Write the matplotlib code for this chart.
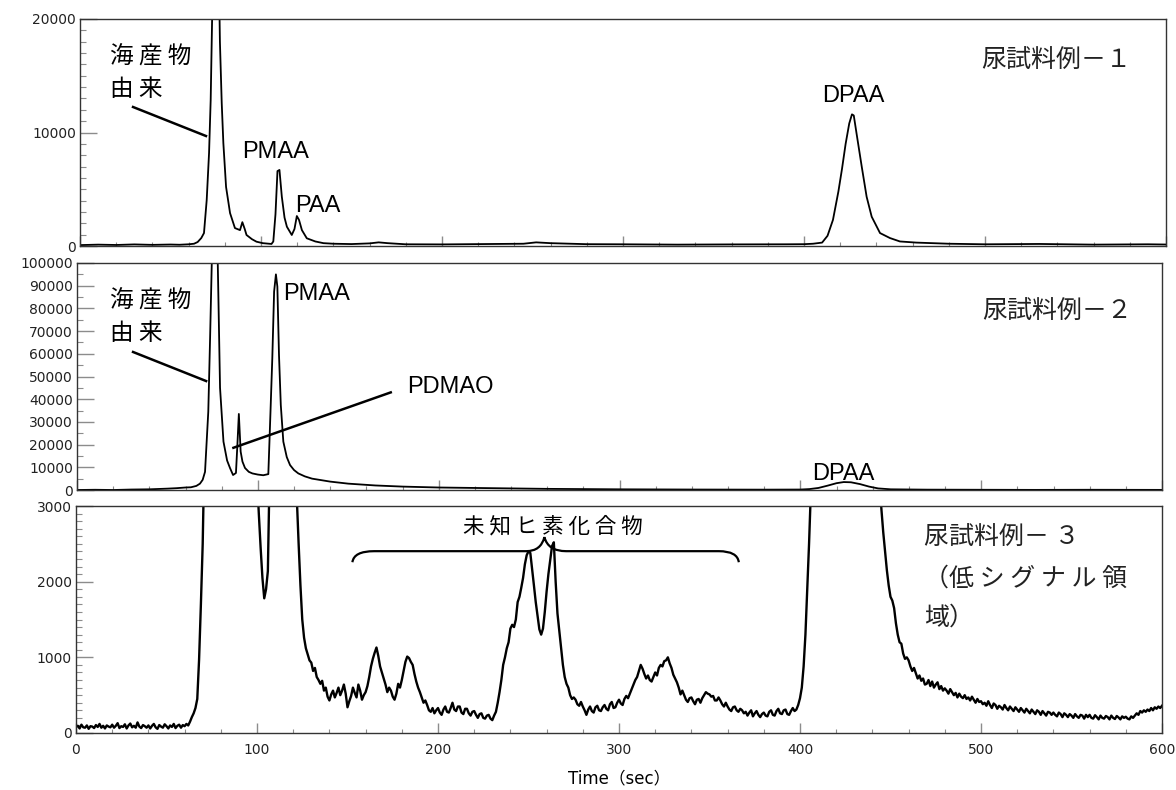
import numpy as np
import matplotlib
matplotlib.use("Agg")
import matplotlib.pyplot as plt
from matplotlib.path import Path
from matplotlib.patches import PathPatch
from matplotlib.ticker import MultipleLocator

plt.rcParams["font.family"] = ["DejaVu Sans", "Noto Sans CJK JP"]

CJK = ["Noto Sans CJK JP", "DejaVu Sans"]
LATIN = ["Liberation Sans", "DejaVu Sans"]

# ---- urine sample 1: retention time (s) and intensity ----
t1 = [0, 10, 20, 30, 40, 50, 55, 60, 63, 65,
      67, 68.5, 70, 71.3, 72.2, 73.1, 74, 75, 76, 77.3,
      78.3, 79.2, 80.7, 82.9, 85.6, 88.4, 89.7, 91, 92, 95,
      97.5, 101, 105.8, 106.8, 108, 109.1, 110.2, 111.5, 113, 114.3,
      117, 118.5, 119.8, 121, 122.6, 125.3, 130, 134.5, 140, 150,
      160, 165, 170, 180, 200, 230, 245, 252, 260, 280,
      300, 330, 360, 390, 400, 405, 410, 413, 416, 419,
      421, 423, 425, 426.5, 427.5, 429, 431.9, 434.6, 437.4, 442,
      447.5, 453, 462, 480, 500, 530, 560, 590, 600]
i1 = [80, 120, 90, 140, 100, 130, 110, 150, 200, 350,
      700, 1140, 4050, 8200, 12860, 21000, 30000, 36000, 32000, 18000,
      12600, 9070, 5200, 2900, 1580, 1400, 2100, 1500, 970, 600,
      380, 250, 180, 400, 2800, 6600, 6700, 4350, 2500, 1700,
      970, 1500, 2640, 2300, 1400, 680, 400, 250, 200, 170,
      230, 320, 250, 150, 140, 180, 200, 320, 250, 160,
      150, 120, 140, 150, 160, 200, 300, 900, 2300, 4800,
      6800, 9000, 10800, 11600, 11500, 9950, 6990, 4340, 2580, 1140,
      700, 400, 300, 200, 150, 180, 120, 150, 130]

# ---- urine sample 2 ----
t2 = [0, 10, 20, 30, 40, 50, 55, 60, 63, 66,
      68, 69.5, 70.8, 72.6, 73.6, 74.5, 75.5, 76.5, 77.6, 78.2,
      79.1, 81, 83, 84.6, 86.3, 87.9, 88.7, 89.5, 90.5, 91.5,
      92.9, 95, 97, 100, 103, 105.8, 107, 108, 109, 110,
      110.8, 111.7, 112.7, 114.1, 116, 117.8, 120, 122.4, 126, 130,
      140, 150, 165, 180, 200, 230, 260, 300, 340, 380,
      400, 405, 410, 415, 420, 424, 428, 433, 438, 443,
      450, 470, 500, 530, 560, 600]
i2 = [0, 100, 0, 200, 300, 600, 800, 1100, 1200, 1800,
      2800, 4500, 8000, 34500, 67000, 99000, 125000, 130000, 110000, 84600,
      45000, 21300, 13000, 9700, 6600, 7500, 20000, 33500, 16900, 12500,
      9700, 8000, 7300, 6800, 6500, 7000, 34500, 58000, 87400, 95000,
      89600, 59500, 37400, 21300, 14500, 11000, 8800, 7300, 6000, 5000,
      3700, 2800, 2000, 1500, 1100, 800, 500, 300, 200, 150,
      200, 400, 900, 1900, 3000, 3500, 3400, 2600, 1500, 700,
      300, 150, 100, 50, 100, 50]

# ---- urine sample 3 (low-signal range), one reading per second ----
t3 = np.arange(0, 601, 1)
i3 = [80, 95, 60, 110, 75, 70, 100, 55, 90, 85, 65, 105, 80, 120, 70, 95, 60, 100, 85, 75,
      110, 70, 95, 130, 65, 90, 80, 115, 60, 100, 125, 75, 95, 70, 140, 85, 65, 105, 90, 70,
      100, 60, 95, 120, 75, 55, 105, 85, 70, 115, 90, 60, 100, 80, 120, 65, 95, 110, 70, 105,
      90, 120, 100, 150, 210, 260, 330, 450, 970, 1700, 2500, 3800, 5000, 7000, 9000, 11000, 12000, 13000, 14000, 14000,
      13000, 12000, 11000, 10000, 9000, 8000, 7500, 7000, 6500, 7000, 8000, 7500, 7000, 6500, 6000, 5500, 5000, 4600, 4200, 3800,
      3400, 2900, 2450, 2050, 1780, 1900, 2140, 3500, 5000, 7000, 9000, 11000, 14000, 13000, 12000, 10500, 9000, 7500, 6000, 5000,
      4200, 3600, 3100, 2500, 1950, 1500, 1260, 1120, 1040, 960, 930, 820, 860, 740, 700, 650, 690, 560, 600, 480,
      430, 510, 560, 470, 530, 600, 500, 560, 640, 520, 340, 420, 490, 600, 530, 470, 640, 560, 440, 500,
      540, 620, 740, 880, 980, 1060, 1130, 1020, 880, 800, 720, 640, 540, 600, 560, 480, 440, 520, 650, 600,
      700, 820, 940, 1010, 990, 940, 900, 780, 680, 600, 540, 470, 400, 430, 370, 300, 280, 330, 260, 300,
      330, 270, 240, 310, 350, 280, 270, 330, 400, 310, 290, 350, 350, 270, 250, 320, 320, 260, 230, 280,
      290, 240, 200, 250, 260, 200, 190, 230, 240, 190, 170, 230, 280, 400, 540, 700, 900, 1000, 1120, 1200,
      1380, 1430, 1400, 1500, 1730, 1800, 1920, 2050, 2230, 2350, 2400, 2380, 2170, 1950, 1730, 1550, 1370, 1300, 1380, 1600,
      1870, 2100, 2280, 2470, 2520, 2000, 1580, 1350, 1120, 900, 740, 650, 600, 500, 450, 470, 440, 380, 360, 410,
      350, 300, 240, 310, 350, 290, 270, 340, 360, 300, 290, 340, 370, 320, 300, 380, 410, 330, 340, 400,
      440, 390, 370, 450, 490, 460, 520, 580, 640, 700, 740, 820, 900, 850, 780, 720, 760, 700, 680, 740,
      800, 760, 860, 900, 880, 950, 960, 1000, 920, 860, 770, 720, 670, 600, 510, 560, 500, 440, 410, 460,
      470, 420, 380, 440, 450, 400, 460, 500, 540, 520, 510, 480, 490, 430, 430, 470, 430, 380, 350, 400,
      350, 310, 290, 340, 350, 300, 280, 320, 300, 260, 280, 230, 270, 300, 220, 260, 290, 240, 210, 250,
      270, 230, 220, 280, 300, 240, 230, 290, 320, 260, 250, 300, 310, 250, 240, 290, 330, 290, 310, 370,
      460, 600, 880, 1300, 1900, 2500, 3200, 4500, 6000, 7500, 9000, 10500, 12000, 13500, 15000, 16500, 18000, 19000, 20000, 21000,
      22000, 22500, 23000, 23500, 24000, 23500, 23000, 21500, 20000, 18500, 17000, 15500, 14000, 12500, 11000, 9800, 8500, 7500, 6500, 5700,
      5000, 4500, 4000, 3600, 3300, 2950, 2650, 2400, 2150, 1950, 1800, 1750, 1650, 1450, 1300, 1200, 1180, 1050, 980, 1000,
      960, 880, 820, 860, 790, 720, 760, 690, 720, 640, 650, 700, 620, 680, 600, 640, 670, 580, 620, 560,
      590, 560, 520, 580, 540, 500, 530, 470, 520, 480, 460, 500, 450, 470, 430, 480, 440, 400, 450, 410,
      420, 380, 400, 360, 420, 370, 330, 390, 370, 320, 360, 340, 310, 370, 330, 300, 350, 320, 290, 340,
      310, 280, 330, 300, 270, 320, 290, 260, 310, 280, 250, 300, 280, 240, 290, 260, 230, 280, 270, 240,
      270, 240, 220, 270, 250, 210, 260, 240, 210, 250, 230, 200, 250, 220, 200, 240, 230, 190, 240, 210,
      240, 200, 190, 235, 210, 180, 230, 200, 190, 225, 210, 180, 230, 200, 185, 225, 205, 180, 220, 200,
      215, 190, 180, 220, 200, 230, 260, 240, 290, 270, 300, 280, 310, 290, 330, 300, 340, 320, 350, 330,
      360]
assert len(i3) == len(t3)

y_max = [20000, 100000, 3000]
y_major = [10000, 10000, 1000]
y_minor = [1000, 5000, 100]
sample_names = ["尿試料例－１", "尿試料例－２"]

W, H = 1176, 790
fig = plt.figure(figsize=(W / 100, H / 100), dpi=100)


def box(left, top, right, bottom):
    return [left / W, 1 - bottom / H, (right - left) / W, (bottom - top) / H]


ax1 = fig.add_axes(box(80, 19, 1166, 246))
ax2 = fig.add_axes(box(77, 263, 1162, 490))
ax3 = fig.add_axes(box(76, 506, 1162, 733))
axes = [ax1, ax2, ax3]

for ax, tt, yy, lw in [(ax1, t1, i1, 1.3), (ax2, t2, i2, 1.3), (ax3, t3, i3, 1.7)]:
    ax.plot(tt, yy, color="black", lw=lw)

for k, ax in enumerate(axes):
    ax.set_xlim(0, 600)
    ax.set_ylim(0, y_max[k])
    ax.xaxis.set_major_locator(MultipleLocator(100))
    ax.xaxis.set_minor_locator(MultipleLocator(20))
    ax.yaxis.set_major_locator(MultipleLocator(y_major[k]))
    ax.yaxis.set_minor_locator(MultipleLocator(y_minor[k]))
    ax.tick_params(which="both", direction="in", color="#8c8c8c",
                   labelcolor="#222222", labelsize=10, top=False, right=False)
    ax.tick_params(axis="x", which="major", length=7, width=1, pad=7)
    ax.tick_params(axis="x", which="minor", length=3, width=0.8)
    ax.tick_params(axis="y", which="major", length=12, width=1, pad=3)
    ax.tick_params(axis="y", which="minor", length=4.3, width=0.8)
    for s in ax.spines.values():
        s.set_color("#333333")
        s.set_linewidth(1.0)
    if k < 2:
        ax.tick_params(axis="x", labelbottom=False)

ax3.set_xlabel("Time（sec）", fontsize=12, labelpad=9)

# ---- panel 1 labels ----
ax1.text(16.6, 16120, "海 産 物", family=CJK, fontsize=17, va="baseline")
ax1.text(16.6, 13216, "由 来", family=CJK, fontsize=17, va="baseline")
ax1.plot([29.3, 69.6], [12247, 9692], color="black", lw=1.8)
ax1.text(89.5, 7750, "PMAA", family=LATIN, fontsize=17, va="baseline")
ax1.text(118.8, 2996, "PAA", family=LATIN, fontsize=17, va="baseline")
ax1.text(427, 12700, "DPAA", family=LATIN, fontsize=17, va="baseline", ha="center")
ax1.text(581, 15680, sample_names[0], family=CJK, fontsize=18,
         va="baseline", ha="right", color="#222222")

# ---- panel 2 labels ----
ax2.text(18.3, 80180, "海 産 物", family=CJK, fontsize=17, va="baseline")
ax2.text(18.3, 66080, "由 来", family=CJK, fontsize=17, va="baseline")
ax2.plot([31, 71.4], [60800, 48000], color="black", lw=1.8)
ax2.text(114, 83700, "PMAA", family=LATIN, fontsize=17, va="baseline")
ax2.text(182.5, 42700, "PDMAO", family=LATIN, fontsize=17, va="baseline")
ax2.plot([86.5, 173.5], [18600, 43000], color="black", lw=1.8)
ax2.text(424, 4600, "DPAA", family=LATIN, fontsize=17, va="baseline", ha="center")
ax2.text(583.5, 75300, sample_names[1], family=CJK, fontsize=18,
         va="baseline", ha="right", color="#222222")

# ---- panel 3 labels ----
ax3.text(263.3, 2655, "未 知 ヒ 素 化 合 物", family=CJK, fontsize=15.5,
         va="baseline", ha="center")
ax3.text(468.5, 2482, "尿試料例－ ３", family=CJK, fontsize=18,
         va="baseline", color="#222222")
ax3.text(468.5, 1951, "（低 シ グ ナ ル 領", family=CJK, fontsize=18,
         va="baseline", color="#222222")
ax3.text(468.5, 1434, "域）", family=CJK, fontsize=18,
         va="baseline", color="#222222")

# curly brace over the unknown arsenic compounds
b_left, b_right, b_tip = 152.7, 366.2, 258.8
b_end, b_bar, b_peak = 2257, 2403, 2588
verts = [(b_left, b_end), (b_left + 0.8, b_bar), (b_left + 12, b_bar),
         (b_tip - 10, b_bar),
         (b_tip - 2, b_bar), (b_tip, b_peak),
         (b_tip + 2, b_bar), (b_tip + 12, b_bar),
         (b_right - 11, b_bar),
         (b_right - 0.8, b_bar), (b_right, b_end)]
codes = [Path.MOVETO, Path.CURVE3, Path.CURVE3,
         Path.LINETO,
         Path.CURVE3, Path.CURVE3,
         Path.CURVE3, Path.CURVE3,
         Path.LINETO,
         Path.CURVE3, Path.CURVE3]
ax3.add_patch(PathPatch(Path(verts, codes), fill=False, lw=1.6,
                        edgecolor="black", clip_on=False))

fig.savefig("out.png", dpi=100)
